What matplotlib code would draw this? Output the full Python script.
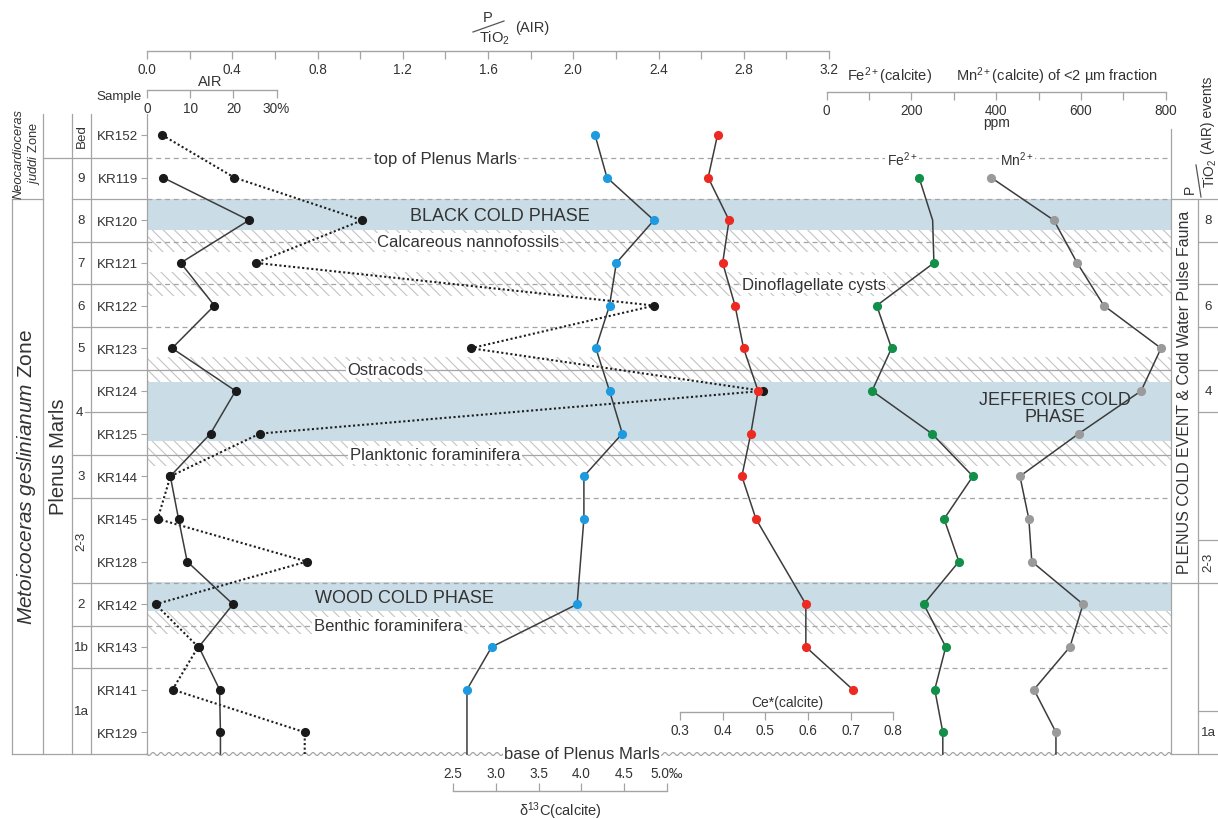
import numpy as np
import matplotlib
matplotlib.use("Agg")
import matplotlib.pyplot as plt
from matplotlib.ticker import MultipleLocator
from matplotlib.transforms import blended_transform_factory

plt.rcParams["font.family"] = ["Liberation Sans", "DejaVu Sans"]
plt.rcParams["mathtext.fontset"] = "custom"
plt.rcParams["mathtext.rm"] = "Liberation Sans"
plt.rcParams["mathtext.it"] = "Liberation Sans:italic"
plt.rcParams["hatch.linewidth"] = 0.8

nan = np.nan

# samples, top to bottom
samples = ["KR152", "KR119", "KR120", "KR121", "KR122", "KR123", "KR124", "KR125",
           "KR144", "KR145", "KR128", "KR142", "KR143", "KR141", "KR129"]
air = [nan, 3.7, 23.6, 7.8, 15.6, 5.8, 20.5, 14.7, 5.4, 7.3, 9.3, 19.9, 12.0, 16.8, 17.0]
p_tio2 = [0.07, 0.41, 1.01, 0.51, 2.38, 1.52, 2.89, 0.53, 0.11, 0.05, 0.75, 0.04, 0.24, 0.12, 0.74]
d13c = [4.16, 4.30, 4.85, 4.41, 4.33, 4.17, 4.33, 4.48, 4.03, 4.03, nan, 3.95, 2.95, 2.66, nan]
ce = [0.388, 0.366, 0.415, 0.400, 0.429, 0.449, 0.483, 0.466, 0.445, 0.478, nan, 0.595, 0.595, 0.705, nan]
fe = [nan, 218, 250, 253, 118, 153, 107, 248, 345, 277, 312, 229, 281, 255, 274]
fe_no_marker = [2]
mn = [nan, 388, 536, 591, 654, 789, 742, 595, 456, 477, 484, 605, 574, 489, 541]

# bed column
bed_labels = ["Bed", "9", "8", "7", "6", "5", "4", "3", "2-3", "2", "1b", "1a"]
bed_pos = [0, 1, 2, 3, 4, 5, 6.5, 8, 9.5, 11, 12, 13.5]
bed_lines = [2.5, 3.5, 4.5, 5.5, 7.5, 8.5, 10.5, 11.5, 12.5]
# P/TiO2 (AIR) event column
event_labels = ["8", "6", "4", "2-3", "1a"]
event_pos = [2, 4, 6, 10, 14]
event_lines = [2.5, 3.5, 4.5, 5.5, 6.5, 9.5, 13.5]

# cold phases and fauna levels
cold_phases = [("BLACK COLD PHASE", 1.5, 2.23), ("JEFFERIES COLD\nPHASE", 5.79, 7.17),
               ("WOOD COLD PHASE", 10.48, 11.16)]
fauna_bands = [(2.23, 2.74), (3.21, 3.77), (5.2, 5.79), (7.17, 7.76), (11.16, 11.7)]
dashed_levels = [0.55, 1.5, 2.5, 3.5, 4.5, 8.5, 10.5, 11.5, 12.5]
solid_levels = [5.5, 7.5]

W, H = 1218, 820
GRID = "#a4a4a4"
TXT = "#333333"
LINE = "#3c3c3c"
BAND = "#cadce5"
TOP = -0.49
BASE = 14.51

fig = plt.figure(figsize=(W / 100, H / 100), dpi=100)


def fx(px):
    return px / W


def fy(py):
    return 1 - py / H


rect = [fx(147), fy(755), (1171 - 147) / W, (755 - 115) / H]
ax = fig.add_axes(rect, zorder=1)
ax.set_xlim(0, 1)
ax.set_ylim(BASE, TOP)
ax.set_xticks([])
ax.set_yticks(range(len(samples)))
ax.set_yticklabels(samples)
ax.tick_params(axis="y", length=4.3, width=0.8, color=GRID, labelsize=9.6,
               labelcolor=TXT, pad=2)
for s in ["top", "right", "bottom"]:
    ax.spines[s].set_visible(False)
ax.spines["left"].set_color(GRID)
ax.spines["left"].set_linewidth(0.9)

for _, y0, y1 in cold_phases:
    ax.axhspan(y0, y1, color=BAND, lw=0, zorder=0)
for y0, y1 in fauna_bands:
    ax.axhspan(y0, y1, facecolor="none", edgecolor="#c4c4c4", hatch="\\\\\\", lw=0, zorder=1)
for y in dashed_levels:
    ax.axhline(y, color=GRID, lw=0.9, ls=(0, (4, 3)), zorder=2)
for y in solid_levels:
    ax.axhline(y, color=GRID, lw=0.9, zorder=2)

# wavy base of Plenus Marls
xw = np.linspace(0, 1, 3000)
ax.plot(xw, BASE + 0.035 * np.sin(2 * np.pi * xw * 1024 / 8), color=GRID, lw=0.9,
        clip_on=False, zorder=2)

# overlay in pixel x, data y for table and labels
ov = fig.add_axes([0, 0, 1, 1], zorder=2)
ov.set_xlim(0, W)
ov.set_ylim(H, 0)
ov.axis("off")
tr = blended_transform_factory(ov.transData, ax.transData)


def hline(y, x0, x1):
    ov.plot([x0, x1], [y, y], color=GRID, lw=0.9, transform=tr, clip_on=False)


def vline(x, y0, y1):
    ov.plot([x, x], [y0, y1], color=GRID, lw=0.9, transform=tr, clip_on=False)


# left table
vline(12, 1.5, BASE)
for x in [43, 72, 91]:
    vline(x, TOP, BASE)
hline(0.55, 43, 147)
hline(1.5, 12, 43)
hline(1.5, 72, 147)
for y in bed_lines:
    hline(y, 72, 147)
hline(6.5, 85, 147)
hline(BASE, 12, 147)

for lab, y in zip(bed_labels, bed_pos):
    rot = 90 if lab in ("Bed", "2-3") else 0
    x = 79 if lab == "4" else 81.5
    ov.text(x, y, lab, transform=tr, ha="center", va="center", rotation=rot,
            fontsize=9.6, color=TXT)

ov.text(19, 0.42, "Neocardioceras", style="italic", transform=tr, rotation=90,
        ha="center", va="center", fontsize=9.3, color=TXT)
ov.text(34, 0.42, r"$\mathit{juddi}$ Zone", transform=tr, rotation=90,
        ha="center", va="center", fontsize=9.3, color=TXT)
ov.text(27, 8.0, r"$\mathit{Metoicoceras\ geslinianum}$ Zone", transform=tr,
        rotation=90, ha="center", va="center", fontsize=15, color=TXT)
ov.text(58, 7.53, "Plenus Marls", transform=tr, rotation=90, ha="center",
        va="center", fontsize=14.5, color=TXT)

# right table
vline(1171, -0.14, BASE)
vline(1198, 1.5, BASE)
hline(1.5, 1171, 1218)
hline(10.5, 1171, 1218)
hline(BASE, 1171, 1218)
for y in event_lines:
    hline(y, 1198, 1218)
for lab, y in zip(event_labels, event_pos):
    rot = 90 if lab == "2-3" else 0
    ov.text(1208, y, lab, transform=tr, ha="center", va="center", rotation=rot,
            fontsize=9.6, color=TXT)
ov.text(1184.5, 6.0, "PLENUS COLD EVENT & Cold Water Pulse Fauna", transform=tr,
        rotation=90, ha="center", va="center", fontsize=11.5, color=TXT)

# right header: P/TiO2 (AIR) events
ov.text(1190, 189, "P", rotation=90, ha="center", va="center", fontsize=10, color=TXT)
ov.plot([1201, 1196], [198, 166], color="#555555", lw=0.9)
ov.text(1210, 173, "TiO$_2$", rotation=90, ha="center", va="center", fontsize=10, color=TXT)
ov.text(1208, 115, "(AIR) events", rotation=90, ha="center", va="center", fontsize=10, color=TXT)

# top header: P/TiO2 (AIR)
ov.text(488, 18, "P", ha="center", va="center", fontsize=10.5, color=TXT)
ov.plot([473, 504], [33, 22], color="#555555", lw=0.9)
ov.text(494, 38, "TiO$_2$", ha="center", va="center", fontsize=10.5, color=TXT)
ov.text(532, 28, "(AIR)", ha="center", va="center", fontsize=10.5, color=TXT)

ov.text(210, 82, "AIR", ha="center", va="center", fontsize=10.5, color=TXT)
ov.text(142, 97, "Sample", ha="right", va="center", fontsize=9.6, color=TXT)
ov.text(889, 76, "Fe$^{2+}$(calcite)", ha="center", va="center", fontsize=10.5, color=TXT)
ov.text(1057, 76, "Mn$^{2+}$(calcite) of <2 µm fraction", ha="center", va="center",
        fontsize=10.5, color=TXT)
ov.text(997, 123, "ppm", ha="center", va="center", fontsize=10, color=TXT)
ov.text(787, 703, "Ce*(calcite)", ha="center", va="center", fontsize=10, color=TXT)
ov.text(560, 811, "δ$^{13}$C(calcite)", ha="center", va="center", fontsize=10.5, color=TXT)

# labels inside the plot
box = dict(facecolor="white", edgecolor="none", pad=1.0)
plot_labels = [
    ("top of Plenus Marls", 445, 0.55),
    ("Calcareous nannofossils", 468, 2.5),
    ("Dinoflagellate cysts", 814, 3.5),
    ("Ostracods", 385, 5.5),
    ("Planktonic foraminifera", 435, 7.5),
    ("Benthic foraminifera", 388, 11.5),
    ("base of Plenus Marls", 582, BASE),
    ("Fe$^{2+}$", 902, 0.55),
    ("Mn$^{2+}$", 1017, 0.55),
]
for lab, x, y in plot_labels:
    ov.text(x, y, lab, transform=tr, ha="center", va="center",
            fontsize=12 if "$" not in lab else 10, color=TXT, bbox=box)
phase_x = [500, 1055, 404]
phase_y = [1.88, 6.4, 10.84]
for (lab, _, _), x, y in zip(cold_phases, phase_x, phase_y):
    ov.text(x, y, lab, transform=tr, ha="center", va="center", fontsize=13,
            color=TXT, linespacing=1.05)

# scales: pixel extent and value range
scales = {
    "ptio2": (147, 829, 0.0, 3.2),
    "air": (147, 276.6, 0.0, 30.0),
    "ppm": (826.7, 1165.7, 0.0, 800.0),
    "d13c": (453.3, 666.7, 2.5, 5.0),
    "ce": (680, 893.3, 0.3, 0.8),
}


def data_ax(key):
    px0, px1, v0, v1 = scales[key]
    k = (v1 - v0) / (px1 - px0)
    a = fig.add_axes(rect, sharey=ax, zorder=3)
    a.set_xlim(v0 - (px0 - 147) * k, v0 + (1171 - px0) * k)
    a.axis("off")
    return a


def scale_ax(key, py, ticks, labels, minor=None, top=False):
    px0, px1, v0, v1 = scales[key]
    a = fig.add_axes([fx(px0), fy(py), (px1 - px0) / W, 1e-4], zorder=2)
    a.set_xlim(v0, v1)
    a.patch.set_visible(False)
    a.set_yticks([])
    for s in ["left", "right", "top", "bottom"]:
        a.spines[s].set_visible(False)
    side = "top" if top else "bottom"
    a.spines[side].set_visible(True)
    a.spines[side].set_color(GRID)
    a.spines[side].set_linewidth(1.0)
    if top:
        a.xaxis.tick_top()
    a.set_xticks(ticks)
    a.set_xticklabels(labels)
    if minor:
        a.xaxis.set_minor_locator(MultipleLocator(minor))
    a.tick_params(axis="x", which="both", direction="out", length=5.5, width=0.9,
                  color=GRID, labelsize=9.8, labelcolor=TXT, pad=2.5)
    return a


pt_ticks = [0.0, 0.4, 0.8, 1.2, 1.6, 2.0, 2.4, 2.8, 3.2]
scale_ax("ptio2", 52, pt_ticks, [f"{t:.1f}" for t in pt_ticks], minor=0.2)
scale_ax("air", 91, [0, 10, 20, 30], ["0", "10", "20", "30%"])
ppm_ticks = [0, 200, 400, 600, 800]
scale_ax("ppm", 93, ppm_ticks, [str(t) for t in ppm_ticks], minor=100)
ce_ticks = [0.3, 0.4, 0.5, 0.6, 0.7, 0.8]
scale_ax("ce", 713, ce_ticks, [f"{t:.1f}" for t in ce_ticks])
c_ticks = [2.5, 3.0, 3.5, 4.0, 4.5, 5.0]
scale_ax("d13c", 792, c_ticks, ["2.5", "3.0", "3.5", "4.0", "4.5", "5.0‰"], top=True)


def draw(a, vals, color, dotted=False, extend=True, skip=()):
    v = np.asarray(vals, float)
    y = np.arange(len(v), dtype=float)
    ok = ~np.isnan(v)
    xs, ys = v[ok], y[ok]
    if extend:
        xs = np.append(xs, xs[-1])
        ys = np.append(ys, BASE)
    if dotted:
        a.plot(xs, ys, color="#1e1e1e", lw=1.5, ls=(0, (1, 1.2)), clip_on=False, zorder=1)
    else:
        a.plot(xs, ys, color=LINE, lw=1.1, clip_on=False, zorder=1)
    mk = ok.copy()
    mk[list(skip)] = False
    a.plot(v[mk], y[mk], ls="none", marker="o", ms=6.6, mfc=color, mec="none",
           clip_on=False, zorder=2)


draw(data_ax("ptio2"), p_tio2, "#1a1a1a", dotted=True)
draw(data_ax("air"), air, "#1a1a1a")
draw(data_ax("d13c"), d13c, "#1e9ae0")
draw(data_ax("ce"), ce, "#ec2a22", extend=False)
ppm_ax = data_ax("ppm")
draw(ppm_ax, fe, "#12904a", skip=fe_no_marker)
draw(ppm_ax, mn, "#9a9a9a")

fig.savefig("out.png", dpi=100)
